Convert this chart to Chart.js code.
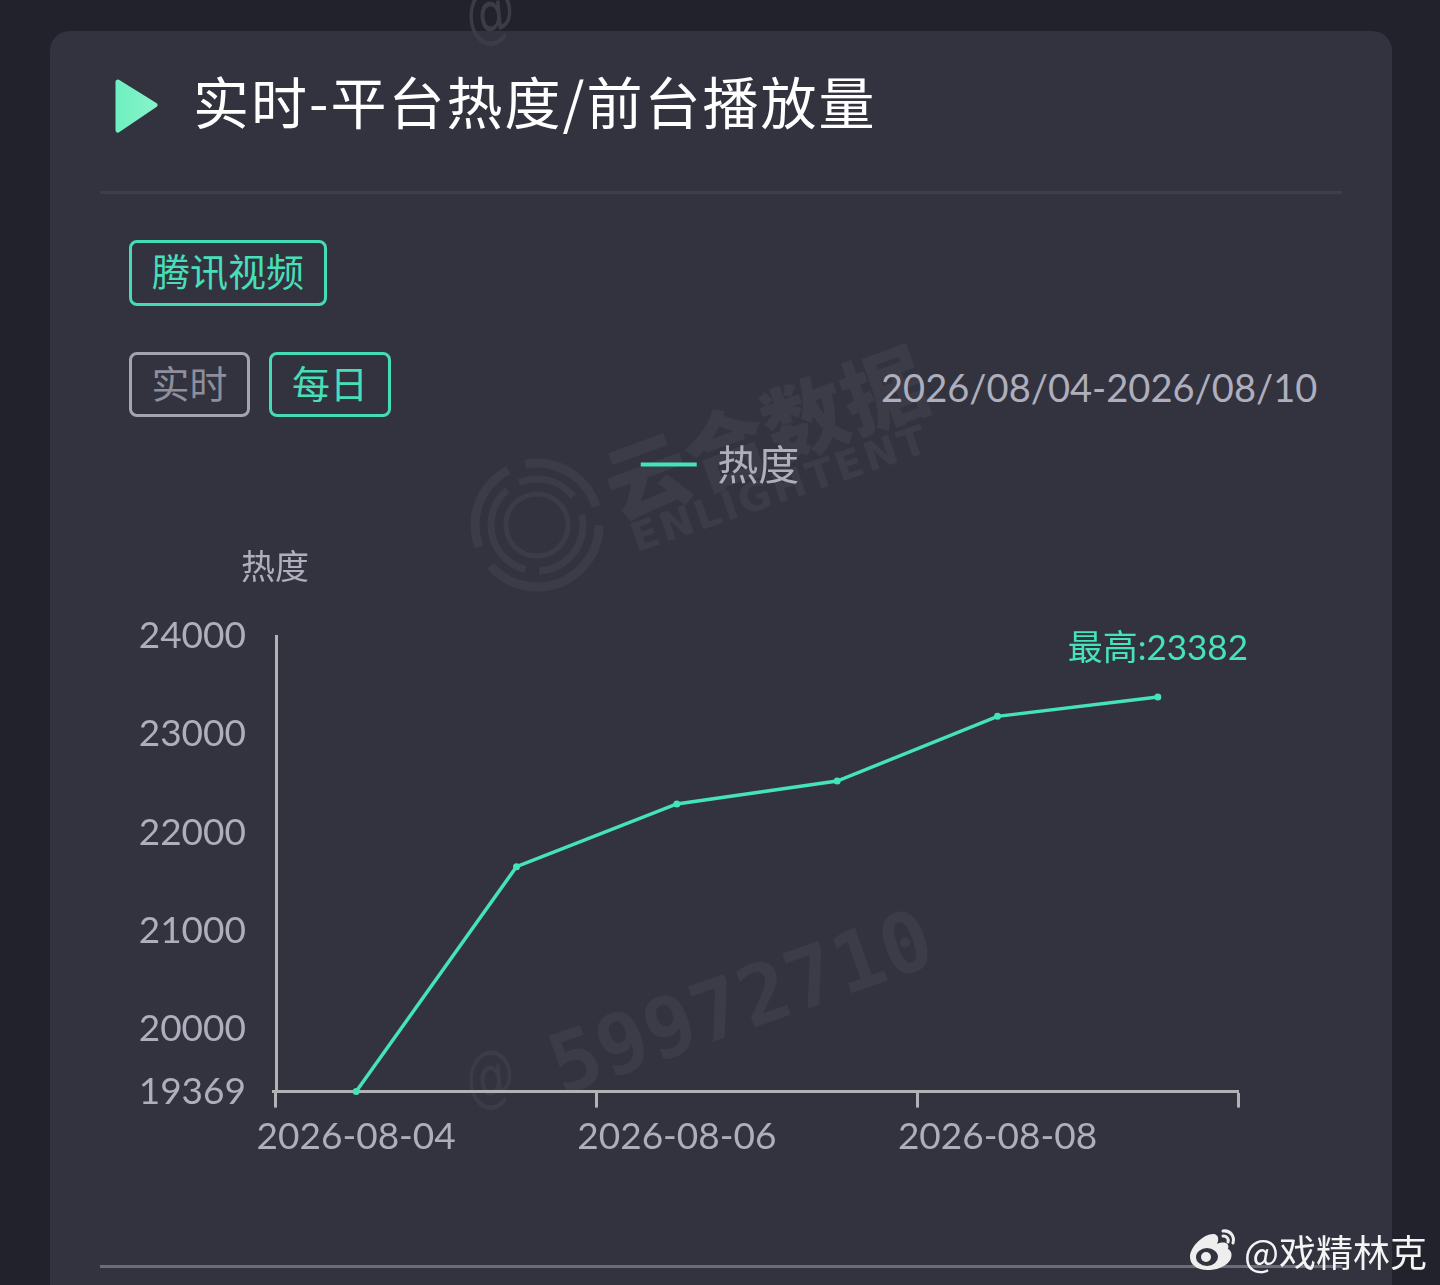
<!DOCTYPE html>
<html lang="zh">
<head>
<meta charset="utf-8">
<title>实时-平台热度/前台播放量</title>
<script src="https://cdn.jsdelivr.net/npm/chart.js@4"></script>
<style>
  html, body { margin: 0; padding: 0; }
  body {
    position: relative;
    width: 1440px;
    height: 1285px;
    overflow: hidden;
    background: #22222c;
    font-family: "Noto Sans CJK SC", sans-serif;
  }
  .card {
    position: absolute;
    left: 50px; top: 31px;
    width: 1342px; height: 1300px;
    background: #333340;
    border-radius: 20px;
  }
  .abs { position: absolute; white-space: nowrap; }
  .rule { position: absolute; left: 100px; width: 1242px; height: 3px; }
  .btn {
    position: absolute;
    box-sizing: border-box;
    border: 3px solid #44dcb6;
    border-radius: 8px;
    color: #46dfb8;
    font-size: 38px;
    text-align: center;
    white-space: nowrap;
  }
  .mark { position: absolute; color: #3c3c49; white-space: nowrap; transform-origin: left center; }
  #heatChart { position: absolute; left: 0; top: 0; }
</style>
</head>
<body>
<div class="card"></div>

<!-- watermarks sit under the canvas -->
<div class="mark" style="left:466px;top:-24px;font:400 68px 'DejaVu Sans';transform:scaleX(.72) rotate(-8deg)">@</div>
<svg class="abs" style="left:465px;top:450px" width="150" height="150" viewBox="0 0 150 150" fill="none" stroke="#3c3c49">
  <circle cx="72" cy="75" r="62" stroke-width="9" stroke-dasharray="150 22 90 18 90 20"/>
  <circle cx="72" cy="75" r="46" stroke-width="7" stroke-dasharray="70 14 100 14 60 20"/>
  <circle cx="72" cy="75" r="31" stroke-width="5"/>
</svg>
<div class="mark" style="left:606px;top:426px;font-size:84px;font-weight:900;transform:rotate(-20deg);letter-spacing:0">云合数据</div>
<div class="mark" style="left:632px;top:516px;font:700 40px 'DejaVu Sans';transform:rotate(-19deg);letter-spacing:3px">ENLIGHTENT</div>
<div class="mark" style="left:466px;top:1040px;font:400 68px 'DejaVu Sans';transform:scaleX(.72) rotate(-8deg)">@</div>
<div class="mark" style="left:552px;top:1020px;font:700 83px 'DejaVu Sans Mono';transform:rotate(-19.4deg);letter-spacing:0">59972710</div>

<svg class="abs" style="left:112px;top:76px" width="50" height="60" viewBox="0 0 50 60">
  <defs><linearGradient id="tri" x1="0" x2="1"><stop offset="0" stop-color="#6ff0c0"/><stop offset="1" stop-color="#86f4ca"/></linearGradient></defs>
  <path d="M6 6 L43 29 L6 54 Z" fill="url(#tri)" stroke="url(#tri)" stroke-width="5" stroke-linejoin="round"/>
</svg>
<div class="abs" style="left:193px;top:60px;font-size:56px;line-height:80px;color:#fff;font-weight:400;letter-spacing:2px">实时-平台热度/前台播放量</div>
<div class="rule" style="top:191px;background:#3e3e4a"></div>

<div class="btn" style="left:129px;top:240px;width:198px;height:66px;line-height:54px">腾讯视频</div>
<div class="btn" style="left:129px;top:352px;width:121px;height:65px;line-height:54px;border-color:#a3a3b1;color:#8e8e9c">实时</div>
<div class="btn" style="left:269px;top:352px;width:122px;height:65px;line-height:54px">每日</div>
<div class="abs" style="left:881px;top:361px;font:400 38.1px/52px Lato;color:#aeaebc">2026/08/04-2026/08/10</div>

<canvas id="heatChart" width="1440" height="1285"></canvas>

<div class="rule" style="top:1265px;background:#6c6c76"></div>

<svg class="abs" style="left:1186px;top:1226px" width="56" height="46" viewBox="0 0 56 46">
  <path d="M4 31 C4 20 19 7 28 8 C33 9 33 14 31 18 C38 15 44 17 42 23 C49 26 47 42 24 44 C12 45 4 39 4 31 Z" fill="#eeeeee"/>
  <ellipse cx="21" cy="31" rx="11" ry="9" fill="#333340"/>
  <circle cx="20" cy="31" r="5" fill="#eeeeee"/>
  <path d="M37 5 C44 4 49 10 47 17" fill="none" stroke="#eeeeee" stroke-width="3" stroke-linecap="round"/>
  <path d="M37 10 C41 10 43 13 42 16" fill="none" stroke="#eeeeee" stroke-width="3" stroke-linecap="round"/>
</svg>
<div class="abs" style="left:1244px;top:1226px;font-size:37px;line-height:50px;color:#f4f4f4">@戏精林克</div>

<script>
const dates = ['2026-08-04', '2026-08-05', '2026-08-06', '2026-08-07', '2026-08-08', '2026-08-09'];
const heat = [19369, 21656, 22294, 22527, 23185, 23382];
const yTicks = [19369, 20000, 21000, 22000, 23000, 24000];

const green = '#44e3ba';
const grey = '#aeaebc';
const axisGrey = '#b2b2b4';
const numFont = 'Lato, sans-serif';
const cjkFont = '"Noto Sans CJK SC", sans-serif';
const rightPad = 202;

const extras = {
  id: 'extras',
  // the plot stops short of the right edge, the legend still centres on the page
  afterLayout(chart) {
    chart.legend.left += rightPad / 2;
    chart.legend.right += rightPad / 2;
  },
  // y axis name and the "highest" label are not something Chart.js has built in
  afterDatasetsDraw(chart) {
    const { ctx, scales } = chart;
    ctx.save();
    ctx.textBaseline = 'middle';
    ctx.textAlign = 'center';
    ctx.fillStyle = grey;
    ctx.font = '34px ' + cjkFont;
    ctx.fillText('热度', 275, 566);

    const top = Math.max(...heat);
    const i = heat.indexOf(top);
    ctx.fillStyle = green;
    ctx.font = '35px ' + numFont + ', ' + cjkFont;
    ctx.fillText('最高:' + top, scales.x.getPixelForValue(i), scales.y.getPixelForValue(top) - 48);
    ctx.restore();
  }
};

new Chart(document.getElementById('heatChart'), {
  type: 'line',
  data: {
    labels: dates,
    datasets: [{
      label: '热度',
      data: heat,
      borderColor: green,
      backgroundColor: green,
      borderWidth: 3.5,
      tension: 0,
      pointRadius: 3.5,
      pointBorderWidth: 0,
      pointBackgroundColor: green,
      clip: false
    }]
  },
  options: {
    responsive: false,
    animation: false,
    layout: { padding: { top: 444, left: 0, right: rightPad, bottom: 119 } },
    plugins: {
      tooltip: { enabled: false },
      // empty title only holds the gap between legend and plot
      title: { display: true, text: '', weight: 500, padding: { top: 0, bottom: 98 }, font: { size: 36 } },
      legend: {
        position: 'top',
        align: 'center',
        onClick: null,
        labels: {
          usePointStyle: true,
          pointStyle: 'line',
          pointStyleWidth: 56,
          color: grey,
          padding: 0,
          font: { family: cjkFont, size: 41 },
          generateLabels(chart) {
            const items = Chart.defaults.plugins.legend.labels.generateLabels(chart);
            items.forEach(item => { item.lineWidth = 4; item.strokeStyle = green; });
            return items;
          }
        }
      }
    },
    scales: {
      x: {
        offset: true,
        grid: {
          offset: true,
          drawOnChartArea: false,
          tickLength: 16,
          tickWidth: 3,
          tickColor: c => (c.index === undefined || c.index % 2 === 0) ? axisGrey : 'transparent'
        },
        border: { color: axisGrey, width: 3 },
        ticks: {
          autoSkip: false,
          maxRotation: 0,
          padding: 7,
          color: grey,
          font: { family: numFont, size: 37 },
          callback(v, i) { return i % 2 === 0 ? this.getLabelForValue(v) : ''; }
        }
      },
      y: {
        min: yTicks[0],
        max: yTicks[yTicks.length - 1],
        afterFit(scale) { scale.width = 276; },
        afterBuildTicks(scale) { scale.ticks = yTicks.map(v => ({ value: v })); },
        grid: {
          drawOnChartArea: false,
          tickLength: 4,
          tickWidth: 3,
          tickColor: c => c.index === 0 ? axisGrey : 'transparent'
        },
        border: { color: axisGrey, width: 3 },
        ticks: {
          padding: 26,
          color: grey,
          font: { family: numFont, size: 37 },
          callback: v => String(v)
        }
      }
    }
  },
  plugins: [extras]
});
</script>
</body>
</html>
